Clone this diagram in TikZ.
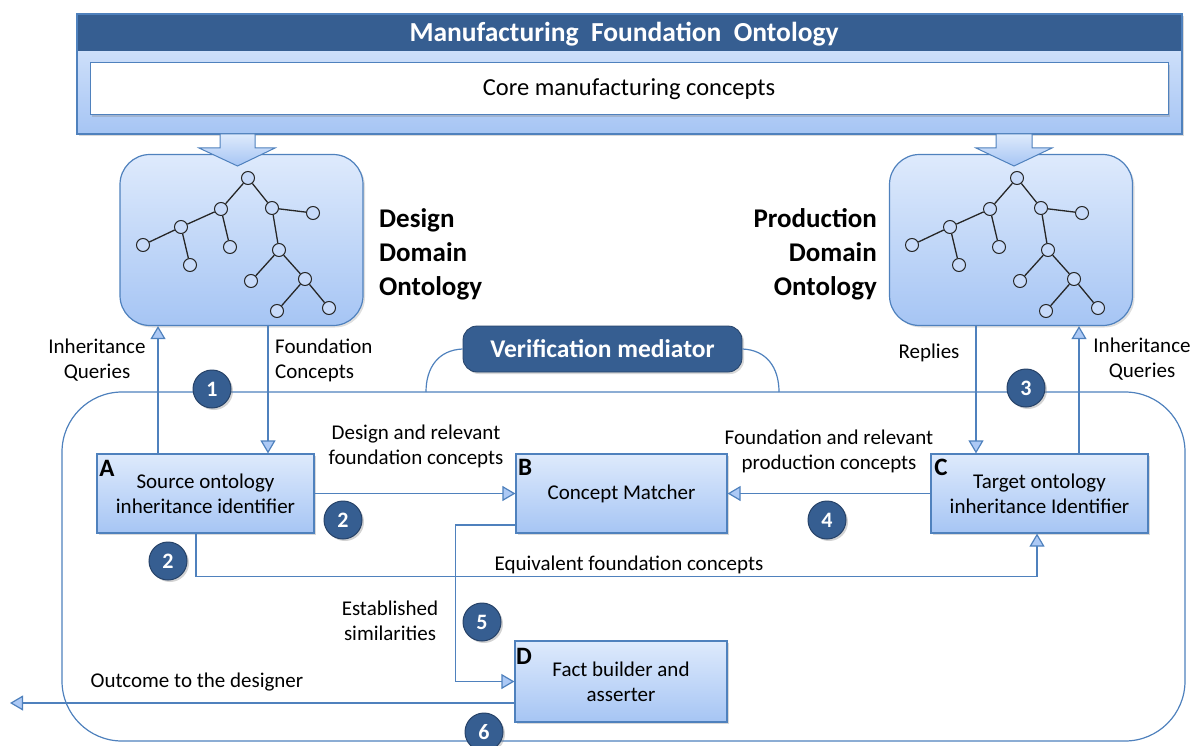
\documentclass[tikz,border=0pt]{standalone}
\usepackage{fontspec}
\setmainfont{Carlito}
\usetikzlibrary{arrows.meta}
\usetikzlibrary{shadows}
\definecolor{darkblue}{RGB}{54,94,145}
\definecolor{badgeedge}{RGB}{38,66,104}
\definecolor{lineblue}{RGB}{79,129,189}
\definecolor{boxtop}{RGB}{222,234,252}
\definecolor{boxbot}{RGB}{166,197,244}
\definecolor{tipfill}{RGB}{172,201,245}
\definecolor{treefill}{RGB}{200,219,250}
\tikzset{
  lbl/.style={inner sep=0pt, align=center, font=\fontsize{21}{25}\selectfont},
  box/.style={draw=lineblue, line width=1.2pt, top color=boxtop, bottom color=boxbot,
    minimum height=79pt, align=center, font=\fontsize{21}{25}\selectfont,
    drop shadow={opacity=0.3, shadow xshift=2pt, shadow yshift=-2pt}},
  tag/.style={inner sep=0pt, font=\bfseries\fontsize{25}{30}\selectfont},
  onto/.style={draw=lineblue, line width=1.2pt, rounded corners=30pt, top color=boxtop,
    bottom color=boxbot, minimum width=243pt, minimum height=171pt,
    drop shadow={opacity=0.25, shadow xshift=2pt, shadow yshift=-2pt}},
  ontotitle/.style={inner sep=0pt, font=\bfseries\fontsize{27}{34}\selectfont},
  tnode/.style={circle, draw=black!85, line width=1pt, fill=treefill, minimum size=13pt, inner sep=0pt},
  tedge/.style={draw=black!85, line width=1.3pt},
  barrow/.style={draw=lineblue, line width=1pt, top color=boxtop, bottom color=boxbot},
  frame/.style={draw=lineblue, line width=1.2pt},
  pill/.style={fill=darkblue, draw=badgeedge, line width=0.8pt, rounded corners=14pt,
    minimum width=279pt, minimum height=46pt, text=white, font=\bfseries\fontsize{25.5}{30}\selectfont,
    drop shadow={opacity=0.3, shadow xshift=2pt, shadow yshift=-2pt}},
  badge/.style={circle, fill=darkblue, draw=badgeedge, line width=1pt, minimum size=38pt,
    inner sep=0pt, text=white, font=\bfseries\fontsize{22}{26}\selectfont,
    drop shadow={opacity=0.35, shadow xshift=2pt, shadow yshift=-2pt}},
  arr/.style={draw=lineblue, line width=1.2pt, -{Triangle[length=13pt, width=15pt, fill=tipfill]}}
}
% tree inside an ontology box: #1 name prefix, #2 x offset
\newcommand{\ontotree}[2]{%
  \begin{scope}[xshift=#2pt]
    \foreach \n/\x/\y in {r/248/178, a/221/209, b/272/208, c/313/213, d/181/227, e/143/245,
        f/230/247, g/190/265, h/279/250, i/251/281, j/305/279, k/277/311, l/329/308}
      \node[tnode] (#1\n) at (\x,\y) {};
    \foreach \p/\q in {r/a, r/b, b/c, a/d, d/e, a/f, d/g, b/h, h/i, h/j, j/k, j/l}
      \draw[tedge] (#1\p) -- (#1\q);
  \end{scope}}

\begin{document}
\begin{tikzpicture}[x=1pt,y=-1pt]
    \useasboundingbox (0,0) rectangle (1198,746);

    % foundation ontology header
    \draw[lineblue, line width=1.2pt, top color=boxtop, bottom color=boxbot,
      drop shadow={opacity=0.3, shadow xshift=2pt, shadow yshift=-2pt}] (77,14) rectangle (1182,134);
    \fill[darkblue] (77.6,14.6) rectangle (1181.4,51);
    \node[text=white, font=\bfseries\fontsize{27.5}{32}\selectfont] (mfo) at (624,34) {Manufacturing\ \ Foundation\ \ Ontology};
    \node[draw=lineblue, line width=1pt, fill=white, minimum width=1078pt, minimum height=52pt,
      font=\fontsize{24.5}{28}\selectfont,
      drop shadow={opacity=0.3, shadow xshift=2pt, shadow yshift=-2pt}] (core) at (629,89) {Core manufacturing concepts};

    % domain ontologies
    \node[onto] (DO) at (241.5,240) {};
    \node[onto] (PO) at (1011,240) {};
    \ontotree{dt}{0}
    \ontotree{pt}{769}
    \draw[barrow] (220,134) -- (255,134) -- (255,148) -- (275,148) -- (237.5,166) -- (199,148) -- (220,148) -- cycle;
    \draw[barrow] (996,134) -- (1032,134) -- (1032,148) -- (1052,148) -- (1014,166) -- (976,148) -- (996,148) -- cycle;
    \node[ontotitle, align=left, anchor=west] (dtitle) at (379,254) {Design\\Domain\\Ontology};
    \node[ontotitle, align=right, anchor=east] (ptitle) at (877,254) {Production\\Domain\\Ontology};

    % verification mediator
    \draw[frame, rounded corners=60pt] (62,392) rectangle (1185,741);
    \node[pill] (vm) at (602.5,349) {Verification mediator};
    \coordinate (vml) at (426,392);
    \coordinate (vmr) at (779,392);
    \draw[frame] (vm.west) .. controls (438,350) and (426,368) .. (vml);
    \draw[frame] (vm.east) .. controls (767,350) and (779,368) .. (vmr);

    % components
    \node[box, minimum width=217pt] (A) at (205.5,493.5) {Source ontology\\inheritance identifier};
    \node[box, minimum width=211pt] (B) at (621.5,493.5) {Concept Matcher};
    \node[box, minimum width=217pt] (C) at (1039.5,493.5) {Target ontology\\inheritance Identifier};
    \node[box, minimum width=212pt, minimum height=81pt] (D) at (621,681.5) {Fact builder and\\asserter};
    \node[tag] (tA) at (107,468) {A};
    \node[tag] (tB) at (525,467) {B};
    \node[tag] (tC) at (941,467) {C};
    \node[tag] (tD) at (524,656) {D};

    % flows
    \draw[arr] ([xshift=-47.5pt]A.north) -- ([xshift=-47.5pt]A.north |- DO.south);
    \draw[arr] ([xshift=26.5pt]DO.south) -- ([xshift=26.5pt]DO.south |- A.north);
    \draw[arr] ([xshift=-35pt]PO.south) -- ([xshift=-35pt]PO.south |- C.north);
    \draw[arr] ([xshift=39.5pt]C.north) -- ([xshift=39.5pt]C.north |- PO.south);
    \draw[arr] (A.east) -- (B.west);
    \draw[arr] (C.west) -- (B.east);
    \draw[arr] ([xshift=-9.5pt]A.south) -- ++(0,43) -| ([xshift=-2.5pt]C.south);
    \draw[arr] ([yshift=-31.5pt]B.west) -- ++(-60,0) |- (D.west);
    \coordinate (exit) at (10,703);
    \draw[arr] ([yshift=-21.5pt]D.west) -- (exit);

    % flow labels
    \node[lbl] (l1) at (97,360) {Inheritance\\Queries};
    \node[lbl, align=left, anchor=west] (l2) at (275,360) {Foundation\\Concepts};
    \node[lbl] (l3) at (929,353) {Replies};
    \node[lbl] (l4) at (1142,359) {Inheritance\\Queries};
    \node[lbl] (l5) at (416,446) {Design and relevant\\foundation concepts};
    \node[lbl] (l6) at (829,451) {Foundation and relevant\\production concepts};
    \node[lbl] (l7) at (629,565) {Equivalent foundation concepts};
    \node[lbl] (l8) at (390,621) {Established\\similarities};
    \node[lbl] (l9) at (197,682) {Outcome to the designer};

    % step numbers
    \node[badge] (s1) at (212,389) {1};
    \node[badge] (s2) at (343,520) {2};
    \node[badge] (s2b) at (168,561) {2};
    \node[badge] (s3) at (1026,388) {3};
    \node[badge] (s4) at (827,520) {4};
    \node[badge] (s5) at (482,622) {5};
    \node[badge] (s6) at (484,732) {6};
\end{tikzpicture}
\end{document}
